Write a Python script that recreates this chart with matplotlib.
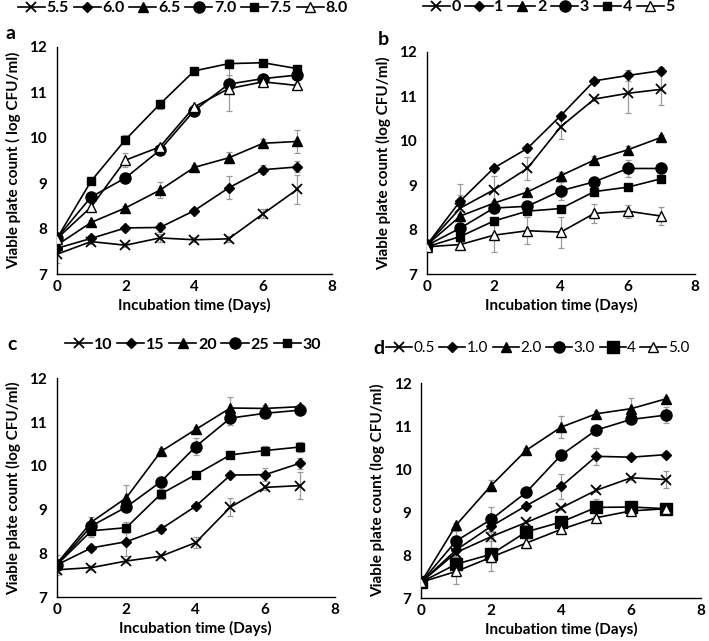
import matplotlib
matplotlib.use("Agg")
from matplotlib import pyplot as plt

plt.rcParams['font.family'] = ['Lato', 'DejaVu Sans']
plt.rcParams['font.weight'] = 'bold'

days = [0, 1, 2, 3, 4, 5, 6, 7]

# --------- panel a : pH ---------
a_labels = ['5.5', '6.0', '6.5', '7.0', '7.5', '8.0']
a_vals = [
    [7.44, 7.72, 7.64, 7.80, 7.76, 7.78, 8.33, 8.87],
    [7.57, 7.79, 8.02, 8.03, 8.40, 8.90, 9.30, 9.36],
    [7.64, 8.14, 8.46, 8.85, 9.35, 9.56, 9.88, 9.92],
    [7.79, 8.70, 9.12, 9.73, 10.60, 11.18, 11.30, 11.38],
    [7.78, 9.05, 9.96, 10.74, 11.47, 11.63, 11.65, 11.52],
    [7.78, 8.48, 9.51, 9.80, 10.68, 11.08, 11.23, 11.15],
]
a_errs = [
    [0.20, 0.05, 0.05, 0.08, 0.05, 0.06, 0.10, 0.32],
    [0.05, 0.05, 0.05, 0.10, 0.05, 0.25, 0.10, 0.12],
    [0.05, 0.05, 0.05, 0.18, 0.05, 0.12, 0.10, 0.25],
    [0.12, 0.10, 0.05, 0.05, 0.05, 0.20, 0.05, 0.05],
    [0.05, 0.05, 0.10, 0.10, 0.05, 0.10, 0.05, 0.06],
    [0.05, 0.08, 0.15, 0.05, 0.05, 0.50, 0.05, 0.06],
]

# --------- panel b ---------
b_labels = ['0', '1', '2', '3', '4', '5']
b_vals = [
    [7.66, 8.49, 8.90, 9.38, 10.32, 10.94, 11.07, 11.16],
    [7.66, 8.65, 9.39, 9.83, 10.57, 11.35, 11.47, 11.58],
    [7.66, 8.31, 8.60, 8.85, 9.22, 9.57, 9.80, 10.08],
    [7.65, 8.04, 8.49, 8.53, 8.88, 9.08, 9.38, 9.38],
    [7.62, 7.85, 8.20, 8.42, 8.48, 8.86, 8.96, 9.15],
    [7.62, 7.67, 7.88, 7.98, 7.95, 8.37, 8.42, 8.31],
]
b_errs = [
    [0.05, 0.30, 0.30, 0.25, 0.28, 0.05, 0.45, 0.35],
    [0.05, 0.38, 0.05, 0.05, 0.05, 0.05, 0.12, 0.08],
    [0.05, 0.05, 0.05, 0.08, 0.08, 0.10, 0.08, 0.05],
    [0.05, 0.05, 0.05, 0.05, 0.20, 0.05, 0.20, 0.05],
    [0.05, 0.05, 0.05, 0.05, 0.05, 0.05, 0.05, 0.05],
    [0.05, 0.05, 0.38, 0.30, 0.35, 0.22, 0.15, 0.20],
]

# --------- panel c : temperature ---------
c_labels = ['10', '15', '20', '25', '30']
c_vals = [
    [7.63, 7.68, 7.83, 7.94, 8.25, 9.06, 9.51, 9.55],
    [7.74, 8.13, 8.27, 8.56, 9.08, 9.79, 9.80, 10.06],
    [7.77, 8.72, 9.27, 10.33, 10.83, 11.32, 11.31, 11.35],
    [7.74, 8.63, 9.06, 9.64, 10.44, 11.09, 11.20, 11.27],
    [7.74, 8.52, 8.59, 9.36, 9.80, 10.25, 10.35, 10.43],
]
c_errs = [
    [0.08, 0.05, 0.05, 0.05, 0.12, 0.20, 0.06, 0.30],
    [0.05, 0.05, 0.32, 0.10, 0.05, 0.05, 0.15, 0.12],
    [0.05, 0.12, 0.30, 0.08, 0.05, 0.25, 0.08, 0.05],
    [0.22, 0.05, 0.10, 0.05, 0.20, 0.15, 0.05, 0.05],
    [0.05, 0.15, 0.12, 0.12, 0.05, 0.08, 0.10, 0.12],
]

# --------- panel d ---------
d_labels = ['0.5', '1.0', '2.0', '3.0', '4', '5.0']
d_vals = [
    [7.37, 8.06, 8.43, 8.76, 9.10, 9.51, 9.80, 9.76],
    [7.37, 8.12, 8.67, 9.15, 9.60, 10.30, 10.28, 10.34],
    [7.37, 8.70, 9.62, 10.44, 10.98, 11.29, 11.41, 11.64],
    [7.37, 8.33, 8.83, 9.46, 10.33, 10.91, 11.16, 11.26],
    [7.37, 7.79, 8.02, 8.54, 8.77, 9.11, 9.12, 9.08],
    [7.37, 7.62, 7.95, 8.28, 8.60, 8.87, 9.03, 9.08],
]
d_errs = [
    [0.05, 0.10, 0.10, 0.05, 0.05, 0.05, 0.05, 0.20],
    [0.05, 0.05, 0.12, 0.05, 0.30, 0.20, 0.05, 0.05],
    [0.05, 0.05, 0.12, 0.05, 0.25, 0.07, 0.25, 0.05],
    [0.05, 0.22, 0.30, 0.10, 0.05, 0.05, 0.05, 0.18],
    [0.05, 0.20, 0.40, 0.05, 0.05, 0.20, 0.05, 0.05],
    [0.05, 0.30, 0.12, 0.12, 0.05, 0.05, 0.05, 0.05],
]

# marker style per series slot: (marker, size, filled)
styles6 = [('x', 7, True), ('D', 5, True), ('^', 7, True), ('o', 8, True), ('s', 5.5, True), ('^', 7, False)]
styles5 = [('x', 7, True), ('D', 5, True), ('^', 7, True), ('o', 8, True), ('s', 5.5, True)]
styles_d = [('x', 7, True), ('D', 5, True), ('^', 7, True), ('o', 8, True), ('s', 8, True), ('^', 7, False)]

fig = plt.figure(figsize=(7.09, 6.41), dpi=100)

panels = [
    # values, errors, labels, styles, axes rect, letter pos, ylabel, legend anchor, legend weight
    (a_vals, a_errs, a_labels, styles6, [0.080, 0.572, 0.388, 0.355], (0.008, 0.947),
     'Viable plate count ( log CFU/ml)', (0.025, 0.987), 'bold'),
    (b_vals, b_errs, b_labels, styles6, [0.602, 0.572, 0.378, 0.347], (0.533, 0.938),
     'Viable plate count (log CFU/ml)', (0.596, 0.989), 'bold'),
    (c_vals, c_errs, c_labels, styles5, [0.080, 0.068, 0.392, 0.342], (0.010, 0.462),
     'Viable plate count (log CFU/ml)', (0.092, 0.462), 'bold'),
    (d_vals, d_errs, d_labels, styles_d, [0.594, 0.067, 0.395, 0.335], (0.527, 0.457),
     'Viable plate count (log CFU/ml)', (0.544, 0.457), 'normal'),
]

for i, (vals, errs, labels, styles, rect, letter_pos, ylab, leg_pos, leg_w) in enumerate(panels):
    ax = fig.add_axes(rect)
    handles = []
    for v, e, lab, (mk, ms, filled) in zip(vals, errs, labels, styles):
        ax.errorbar(days, v, yerr=e, fmt='none', ecolor='#9a9a9a', elinewidth=0.9,
                    capsize=2.5, capthick=0.9, zorder=2)
        h, = ax.plot(days, v, color='black', lw=1.2, marker=mk, ms=ms,
                     mfc='black' if filled else 'white', mec='black',
                     mew=1.3 if mk == 'x' else 1.0, label=lab, zorder=3)
        handles.append(h)

    ax.set_xlim(0, 8)
    ax.set_ylim(7, 12)
    ax.set_xticks([0, 2, 4, 6, 8])
    ax.set_yticks([7, 8, 9, 10, 11, 12])
    ax.spines['top'].set_visible(False)
    ax.spines['right'].set_visible(False)
    ax.spines['left'].set_linewidth(1.0)
    ax.spines['bottom'].set_linewidth(1.0)
    ax.tick_params(axis='x', length=0, labelsize=11, pad=4)
    ax.tick_params(axis='y', length=0, labelsize=11, pad=7)
    for t in ax.get_xticklabels() + ax.get_yticklabels():
        t.set_fontweight('bold')
    ax.set_xlabel('Incubation time (Days)', fontsize=11, fontweight='bold', labelpad=3)
    ax.set_ylabel(ylab, fontsize=11, fontweight='bold', labelpad=6)

    fig.text(letter_pos[0], letter_pos[1], 'abcd'[i], fontsize=14, fontweight='bold',
             ha='left', va='center')
    leg_size = 11 if leg_w == 'normal' else 11.5
    fig.legend(handles=handles, loc='center left', bbox_to_anchor=leg_pos, ncol=len(handles),
               frameon=False, handlelength=1.7, handletextpad=0.1,
               columnspacing=0.3, borderaxespad=0, borderpad=0,
               prop={'weight': leg_w, 'size': leg_size})

fig.savefig('out.png', dpi=100)
